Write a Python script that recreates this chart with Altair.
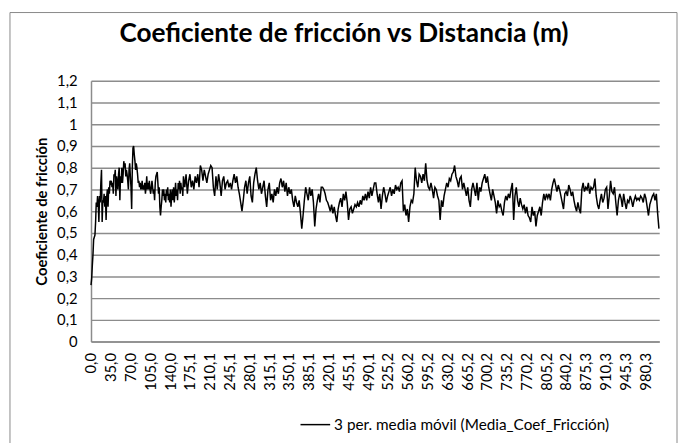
import altair as alt
import numpy as np
import pandas as pd

TITLE = "Coeficiente de fricción vs Distancia (m)"
Y_TITLE = "Coeficiente de fricción"
SERIES = "3 per. media móvil (Media_Coef_Fricción)"

# Values, segment by segment (left to right)
SEG1 = [0.26, 0.29, 0.35, 0.40, 0.47, 0.48, 0.49, 0.55, 0.64, 0.62,
        0.67, 0.64, 0.55, 0.67, 0.64, 0.73, 0.79, 0.55, 0.65, 0.64,
        0.68, 0.62, 0.67, 0.56, 0.67, 0.70, 0.62, 0.71, 0.68, 0.74,
        0.73, 0.74, 0.71, 0.73, 0.68, 0.77, 0.76, 0.79, 0.67, 0.76,
        0.73, 0.70, 0.77, 0.80, 0.65, 0.76, 0.73, 0.80, 0.73, 0.77,
        0.83, 0.80, 0.82, 0.76, 0.79, 0.77, 0.74, 0.70, 0.79, 0.82,
        0.76, 0.71, 0.61, 0.80, 0.89, 0.90, 0.86, 0.83, 0.79, 0.82,
        0.80, 0.77, 0.73, 0.74, 0.71, 0.73, 0.70, 0.71, 0.74, 0.70,
        0.71, 0.70, 0.73, 0.68, 0.71, 0.76, 0.70, 0.73, 0.70, 0.74,
        0.70, 0.68, 0.71, 0.74, 0.71, 0.68, 0.70, 0.65, 0.73, 0.76,
        0.77, 0.78, 0.73, 0.68, 0.71, 0.62, 0.58, 0.62, 0.65, 0.70,
        0.67, 0.70, 0.65, 0.68, 0.64, 0.70, 0.67, 0.71, 0.65, 0.68,
        0.64, 0.70, 0.62, 0.67, 0.70, 0.65, 0.71, 0.64, 0.68, 0.73,
        0.67, 0.70, 0.65, 0.73, 0.70, 0.74, 0.68, 0.73, 0.70, 0.71,
        0.67]
SEG2 = [0.76, 0.71, 0.77, 0.68, 0.74, 0.77, 0.71, 0.74, 0.70, 0.76,
        0.73, 0.77, 0.71, 0.81, 0.79, 0.74, 0.79, 0.76, 0.73, 0.77,
        0.79, 0.81, 0.80, 0.71, 0.67, 0.76, 0.70, 0.77, 0.73, 0.67,
        0.74, 0.76, 0.70, 0.73, 0.74, 0.71, 0.73, 0.70, 0.74, 0.77,
        0.73, 0.76, 0.71, 0.68, 0.64, 0.60, 0.65, 0.71, 0.74, 0.68,
        0.73, 0.76, 0.67, 0.64, 0.73, 0.77, 0.80, 0.74, 0.70, 0.73,
        0.68, 0.71, 0.74, 0.67, 0.62, 0.70, 0.73, 0.65, 0.68, 0.64,
        0.70, 0.67, 0.71, 0.68]
SEG3 = [0.73, 0.75, 0.71, 0.74, 0.69, 0.73, 0.67, 0.71, 0.68, 0.70,
        0.65, 0.62, 0.67, 0.64, 0.62, 0.65, 0.59, 0.52, 0.58, 0.65,
        0.71, 0.68, 0.65, 0.71, 0.67, 0.70, 0.64, 0.53, 0.61, 0.65,
        0.68, 0.64, 0.71, 0.71, 0.70, 0.68, 0.65, 0.64, 0.62, 0.60,
        0.63, 0.59, 0.62, 0.58, 0.55, 0.61, 0.64, 0.66, 0.62, 0.68,
        0.65, 0.69, 0.64, 0.56, 0.61, 0.62, 0.59, 0.61, 0.63, 0.62,
        0.64, 0.62, 0.65, 0.63, 0.67, 0.65, 0.68, 0.65, 0.69, 0.66,
        0.71, 0.67, 0.70, 0.73]
SEG4 = [0.73, 0.68, 0.64, 0.68, 0.61, 0.67, 0.71, 0.68, 0.64, 0.67,
        0.69, 0.71, 0.67, 0.70, 0.68, 0.72, 0.70, 0.71, 0.69, 0.73,
        0.74, 0.60, 0.63, 0.58, 0.61, 0.55, 0.62, 0.65, 0.64, 0.68,
        0.80, 0.74, 0.71, 0.77, 0.76, 0.73, 0.77, 0.74, 0.82, 0.74,
        0.71, 0.70, 0.73, 0.70, 0.66, 0.71, 0.70, 0.67, 0.65, 0.56,
        0.65, 0.62, 0.67, 0.70, 0.73, 0.71, 0.75, 0.74, 0.77, 0.78,
        0.81, 0.76, 0.74, 0.71, 0.75, 0.76, 0.70, 0.73, 0.70, 0.67,
        0.71, 0.65, 0.62, 0.70]
SEG5 = [0.73, 0.70, 0.67, 0.73, 0.65, 0.71, 0.69, 0.73, 0.75, 0.77,
        0.73, 0.76, 0.71, 0.68, 0.65, 0.70, 0.67, 0.64, 0.59, 0.65,
        0.62, 0.63, 0.60, 0.58, 0.64, 0.67, 0.65, 0.68, 0.66, 0.70,
        0.73, 0.56, 0.67, 0.71, 0.65, 0.62, 0.66, 0.63, 0.61, 0.63,
        0.59, 0.62, 0.58, 0.57, 0.55, 0.62, 0.58, 0.60, 0.53, 0.58,
        0.60, 0.62, 0.58, 0.64, 0.68, 0.65, 0.68, 0.66, 0.68, 0.65,
        0.70, 0.73, 0.75, 0.72, 0.69, 0.72, 0.70, 0.67, 0.64, 0.61,
        0.68, 0.69, 0.67, 0.72]
SEG6 = [0.70, 0.67, 0.69, 0.65, 0.62, 0.60, 0.64, 0.61, 0.59, 0.70,
        0.73, 0.69, 0.71, 0.70, 0.73, 0.68, 0.71, 0.70, 0.71, 0.75,
        0.67, 0.63, 0.61, 0.65, 0.68, 0.64, 0.66, 0.70, 0.71, 0.61,
        0.67, 0.74, 0.69, 0.68, 0.71, 0.64, 0.58, 0.65, 0.68, 0.66,
        0.62, 0.68, 0.64, 0.61, 0.65, 0.64, 0.67, 0.65, 0.62, 0.65,
        0.67, 0.65, 0.66, 0.65, 0.67, 0.66, 0.64, 0.68, 0.66, 0.62,
        0.58, 0.63, 0.65, 0.67, 0.68, 0.65, 0.68, 0.59, 0.52]

# Distance (m) where each segment starts, plus the final distance
SEG_BOUNDS = [0.0, 163.5, 333.7, 503.7, 675.6, 847.3, 1004.5]

X_TICKS = [0.0, 35.0, 70.0, 105.0, 140.0, 175.1, 210.1, 245.1, 280.1, 315.1,
           350.1, 385.1, 420.1, 455.1, 490.1, 525.2, 560.2, 595.2, 630.2,
           665.2, 700.2, 735.2, 770.2, 805.2, 840.2, 875.3, 910.3, 945.3, 980.3]
Y_TICKS = [0.0, 0.1, 0.2, 0.3, 0.4, 0.5, 0.6, 0.7, 0.8, 0.9, 1.0, 1.1, 1.2]

segments = [SEG1, SEG2, SEG3, SEG4, SEG5, SEG6]
xs, ys = [], []
for i, seg in enumerate(segments):
    last = i == len(segments) - 1
    xs.extend(np.linspace(SEG_BOUNDS[i], SEG_BOUNDS[i + 1], len(seg), endpoint=last))
    ys.extend(seg)
df = pd.DataFrame({"dist": xs, "coef": ys, "serie": SERIES})

FONT = "Lato"
GRID = "#8c8c8c"
W, H = 575, 264

line = alt.Chart(df).mark_line(strokeWidth=1.5).encode(
    x=alt.X("dist:Q",
            scale=alt.Scale(domain=[0, 1005], nice=False, zero=False),
            axis=alt.Axis(values=X_TICKS,
                          labelExpr="replace(format(datum.value, '.1f'), '.', ',')",
                          labelAngle=270, title=None, grid=False, ticks=False,
                          domainColor=GRID, domainWidth=1.5,
                          labelFontSize=15, labelFont=FONT, labelColor="black",
                          labelPadding=11, labelOverlap=False, labelFlush=False)),
    y=alt.Y("coef:Q",
            scale=alt.Scale(domain=[0, 1.2], nice=False),
            axis=alt.Axis(values=Y_TICKS,
                          labelExpr="replace(toString(round(datum.value * 10) / 10), '.', ',')",
                          title=Y_TITLE, titleFont=FONT, titleFontSize=15,
                          titleFontWeight="bold", titleColor="black",
                          titleAngle=270, titleX=-50, titleY=H / 2,
                          titleAlign="center", titleBaseline="middle",
                          grid=True, gridColor=GRID, gridWidth=1.5,
                          ticks=False, domainColor=GRID, domainWidth=1.5,
                          labelFontSize=15, labelFont=FONT, labelColor="black",
                          labelPadding=14)),
    color=alt.Color("serie:N", scale=alt.Scale(range=["black"]),
                    legend=alt.Legend(title=None, orient="none", legendX=211, legendY=332,
                                      symbolType="stroke", symbolSize=900,
                                      symbolStrokeWidth=1.5, labelFontSize=15.5,
                                      labelFont=FONT, labelColor="black",
                                      labelOffset=3, labelLimit=0, padding=0)),
)

border = alt.Chart(pd.DataFrame({"k": [0]})).mark_rect(
    fillOpacity=0, stroke="#888888", strokeWidth=1
).encode(x=alt.value(-82), x2=alt.value(593), y=alt.value(-69), y2=alt.value(420))

title = alt.Chart(pd.DataFrame({"t": [TITLE]})).mark_text(
    font=FONT, fontSize=26.5, fontWeight="bold", color="black",
    align="center", baseline="middle"
).encode(text="t:N", x=alt.value(256), y=alt.value(-47))

chart = alt.layer(border, title, line).properties(
    width=W, height=H,
    autosize=alt.AutoSizeParams(type="none"),
    padding={"left": 84, "top": 71, "right": 19, "bottom": 100},
).configure_view(stroke=None)

chart.save("out.html", embed_options={"renderer": "svg", "actions": False})
